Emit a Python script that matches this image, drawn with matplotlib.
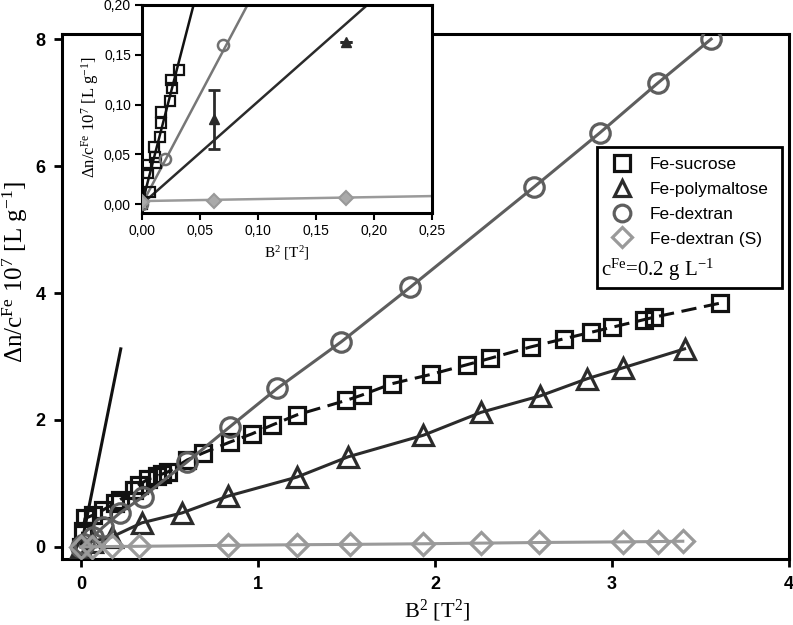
import matplotlib
matplotlib.use('Agg')
from matplotlib import pyplot as plt
from matplotlib.patches import Rectangle
from matplotlib.lines import Line2D
from matplotlib.ticker import FuncFormatter

plt.rcParams['font.family'] = ['Liberation Sans', 'DejaVu Sans']
plt.rcParams['mathtext.fontset'] = 'custom'
plt.rcParams['mathtext.rm'] = 'Liberation Serif'
plt.rcParams['mathtext.it'] = 'Liberation Serif:italic'

# main plot: B^2 [T^2] vs dn/c 1e7 [L/g]
suc_x = [0.0, 0.01, 0.023, 0.068, 0.124, 0.19, 0.22, 0.30, 0.33, 0.38, 0.43, 0.46, 0.49,
         0.60, 0.69, 0.84, 0.965, 1.08, 1.22, 1.50, 1.585, 1.755, 1.98, 2.18, 2.31, 2.54,
         2.73, 2.88, 3.00, 3.18, 3.24, 3.61]
suc_y = [0.0, 0.25, 0.45, 0.50, 0.58, 0.69, 0.74, 0.90, 0.98, 1.07, 1.11, 1.15, 1.18,
         1.37, 1.48, 1.65, 1.78, 1.92, 2.08, 2.31, 2.39, 2.57, 2.72, 2.87, 2.97, 3.15,
         3.28, 3.38, 3.46, 3.58, 3.62, 3.84]

pm_x = [0.0, 0.062, 0.176, 0.344, 0.57, 0.83, 1.22, 1.51, 1.935, 2.26, 2.595, 2.86, 3.06, 3.41]
pm_y = [0.0, 0.085, 0.16, 0.38, 0.535, 0.80, 1.10, 1.42, 1.76, 2.12, 2.38, 2.65, 2.82, 3.12]

dx_x = [0.0, 0.02, 0.07, 0.124, 0.22, 0.35, 0.60, 0.84, 1.11, 1.47, 1.86, 2.56, 2.93, 3.26, 3.56]
dx_y = [0.0, 0.045, 0.16, 0.31, 0.535, 0.79, 1.34, 1.89, 2.50, 3.23, 4.09, 5.67, 6.52, 7.31, 8.0]

ds_x = [0.0, 0.062, 0.176, 0.33, 0.83, 1.22, 1.52, 1.93, 2.26, 2.59, 3.06, 3.26, 3.40]
ds_y = [0.0, 0.003, 0.007, 0.01, 0.025, 0.035, 0.04, 0.05, 0.06, 0.07, 0.08, 0.085, 0.09]

# steep initial line in main plot
steep_x = [0.0, 0.225]
steep_y = [0.0, 3.12]

# inset data
ins_suc_x = [0.0, 0.0043, 0.005, 0.007, 0.010, 0.011, 0.012, 0.0155, 0.016, 0.016,
             0.024, 0.025, 0.026, 0.032]
ins_suc_y = [0.0, 0.039, 0.031, 0.012, 0.057, 0.047, 0.041, 0.067, 0.081, 0.092,
             0.104, 0.125, 0.117, 0.135]
ins_dx_x = [0.0, 0.020, 0.070]
ins_dx_y = [0.0, 0.045, 0.160]
ins_pm_x = [0.062, 0.176]
ins_pm_y = [0.085, 0.163]
ins_pm_err = [0.030, 0.0]
ins_ds_x = [0.0, 0.062, 0.176]
ins_ds_y = [0.002, 0.003, 0.006]

# inset fits (slope, intercept)
fit_suc = (4.5, 0.0)
fit_dx = (2.2, 0.0)
fit_pm = (1.03, 0.0)
fit_ds = (0.02, 0.003)

c_suc = '#111111'
c_pm = '#2b2b2b'
c_dx = '#5e5e5e'
c_ds = '#9a9a9a'

fig = plt.figure(figsize=(7.93, 6.25), dpi=100)
ax = fig.add_axes([62 / 793, 1 - 559 / 625, 727 / 793, 525 / 625])

mk = dict(markerfacecolor='none', markeredgewidth=2.3)
ax.plot(steep_x, steep_y, color=c_suc, lw=2.2, zorder=2)
ax.plot(suc_x, suc_y, color=c_suc, lw=2.2, dashes=(5, 2.5), marker='s', ms=12,
        markeredgecolor=c_suc, zorder=3, **mk)
ax.plot(pm_x, pm_y, color=c_pm, lw=2.2, marker='^', ms=14,
        markeredgecolor=c_pm, zorder=3, **mk)
ax.plot(dx_x, dx_y, color=c_dx, lw=2.2, marker='o', ms=14,
        markeredgecolor=c_dx, zorder=4, **mk)
ax.plot(ds_x, ds_y, color=c_ds, lw=2.2, marker='D', ms=11,
        markeredgecolor=c_ds, zorder=4, **mk)

ax.set_xlim(-0.107, 4.0)
ax.set_ylim(-0.19, 8.08)
ax.set_xticks([0, 1, 2, 3, 4])
ax.set_yticks([0, 2, 4, 6, 8])
for s in ax.spines.values():
    s.set_linewidth(2.2)
ax.tick_params(direction='out', length=6, width=2, pad=6, labelsize=13)
for t in ax.get_xticklabels() + ax.get_yticklabels():
    t.set_fontweight('bold')

ax.set_xlabel('B$^{2}$ [T$^{2}$]', fontfamily='Liberation Serif', fontsize=16)
ax.set_ylabel('Δn/c$^{\\mathrm{Fe}}$ 10$^{7}$ [L g$^{-1}$]', fontfamily='Liberation Serif',
              fontsize=18)
ax.xaxis.set_label_coords(0.516, -0.074)
ax.yaxis.set_label_coords(-0.044, 0.547)

# legend box
box = Rectangle((0.736, 0.516), 0.254, 0.269, transform=ax.transAxes, facecolor='white',
                edgecolor='black', lw=2.0, zorder=6)
ax.add_patch(box)
handles = [
    Line2D([], [], ls='none', marker='s', ms=11, markeredgecolor=c_suc, **mk),
    Line2D([], [], ls='none', marker='^', ms=12, markeredgecolor=c_pm, **mk),
    Line2D([], [], ls='none', marker='o', ms=12, markeredgecolor=c_dx, **mk),
    Line2D([], [], ls='none', marker='D', ms=10, markeredgecolor=c_ds, **mk),
]
labels = ['Fe-sucrose', 'Fe-polymaltose', 'Fe-dextran', 'Fe-dextran (S)']
leg = ax.legend(handles, labels, loc='upper left', bbox_to_anchor=(0.742, 0.785),
                frameon=False, fontsize=12.5, handlelength=1.2, handletextpad=1.0,
                labelspacing=0.55, borderaxespad=0.2)
leg.set_zorder(7)
ax.text(0.741, 0.550, 'c$^{\\mathrm{Fe}}$=0.2 g L$^{-1}$', transform=ax.transAxes,
        fontfamily='Liberation Serif', fontsize=15, va='center', ha='left', zorder=8)

# inset
ins = fig.add_axes([142 / 793, 1 - 213 / 625, 290 / 793, 208 / 625])
ins.set_facecolor('white')
ins.set_xlim(0, 0.25)
ins.set_ylim(-0.009, 0.20)
xx = [0, 0.25]
for (k, b), col in [(fit_suc, c_suc), (fit_dx, '#777777'), (fit_pm, c_pm), (fit_ds, c_ds)]:
    ins.plot(xx, [b + k * v for v in xx], color=col, lw=1.8, zorder=2)
ins.plot(ins_suc_x, ins_suc_y, ls='none', marker='s', ms=6.5, markerfacecolor='none',
         markeredgecolor=c_suc, markeredgewidth=1.6, zorder=3)
ins.plot(ins_dx_x, ins_dx_y, ls='none', marker='o', ms=8, markerfacecolor='none',
         markeredgecolor='#707070', markeredgewidth=1.8, zorder=3)
ins.errorbar(ins_pm_x, ins_pm_y, yerr=ins_pm_err, fmt='^', ms=7, color=c_pm,
             ecolor=c_pm, elinewidth=2, capsize=4, capthick=2, zorder=4)
ins.plot(ins_ds_x, ins_ds_y, ls='none', marker='D', ms=7, markerfacecolor='#aaaaaa',
         markeredgecolor='#999999', markeredgewidth=1.5, zorder=4)

ins.set_xticks([0, 0.05, 0.10, 0.15, 0.20, 0.25])
ins.set_yticks([0, 0.05, 0.10, 0.15, 0.20])
comma = FuncFormatter(lambda v, p: ('%.2f' % v).replace('.', ','))
ins.xaxis.set_major_formatter(comma)
ins.yaxis.set_major_formatter(comma)
for s in ins.spines.values():
    s.set_linewidth(2.2)
ins.tick_params(direction='out', length=5, width=1.5, pad=3, labelsize=10)
ins.set_xlabel('B$^{2}$ [T$^{2}$]', fontfamily='Liberation Serif', fontsize=11)
ins.set_ylabel('Δn/c$^{\\mathrm{Fe}}$ 10$^{7}$ [L g$^{-1}$]', fontfamily='Liberation Serif',
               fontsize=12)
ins.xaxis.set_label_coords(0.5, -0.15)
ins.yaxis.set_label_coords(-0.14, 0.46)

fig.savefig('out.png', dpi=100)
